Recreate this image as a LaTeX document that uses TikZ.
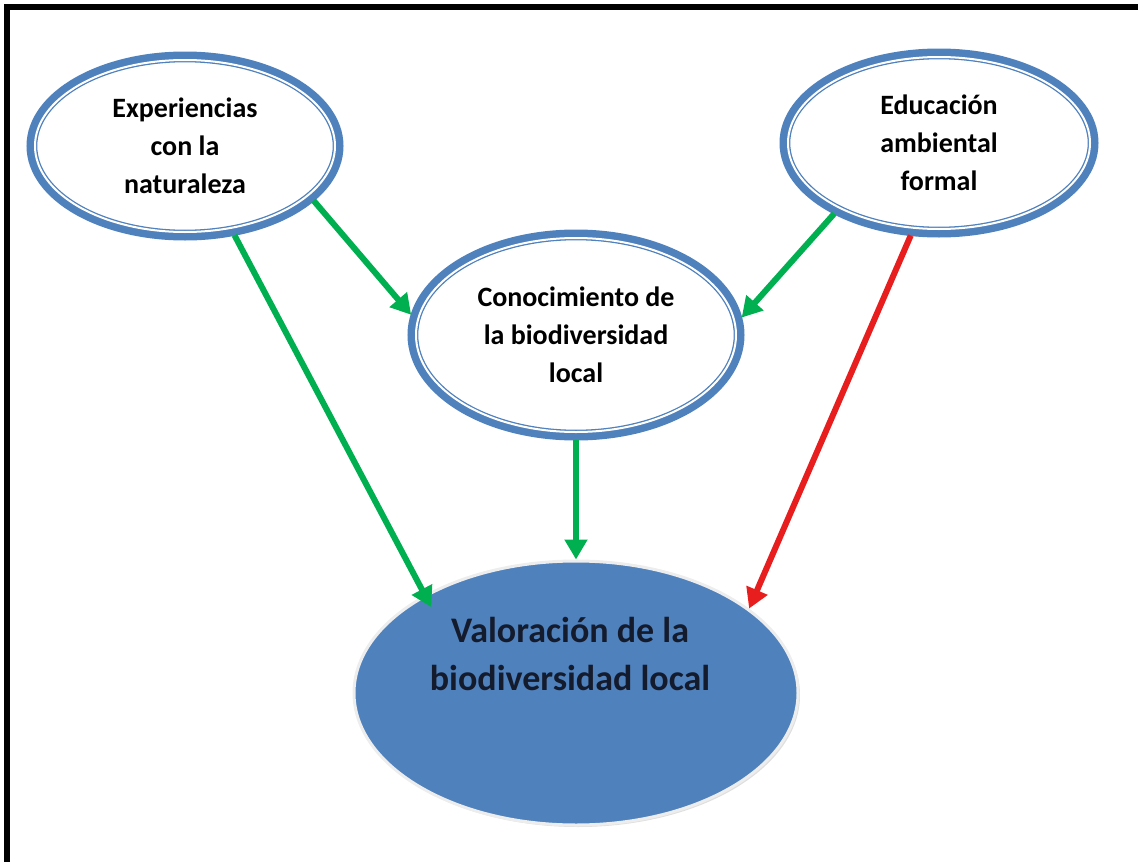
\documentclass[tikz,border=0pt]{standalone}
\usepackage{fontspec}
\setmainfont{Carlito}
\usetikzlibrary{shapes.geometric,arrows.meta,shadows}
\definecolor{ringblue}{HTML}{4F81BD}
\definecolor{arrowgreen}{HTML}{00B050}
\definecolor{arrowred}{HTML}{E81E1E}
\definecolor{inkblue}{HTML}{141B2D}
\begin{document}
\begin{tikzpicture}[x=1pt, y=-1pt,
  ring/.style = {ellipse, draw=ringblue, fill=white,
    inner sep=0pt, outer sep=8pt,
    double=white, double distance=2pt, line width=1.3pt,
    preaction={draw=ringblue, line width=17pt},
    align=center, font=\fontsize{28}{38}\selectfont\bfseries},
  core/.style = {ellipse, fill=ringblue, draw=black!7, line width=3pt,
    inner sep=0pt, minimum width=444pt, minimum height=264pt,
    drop shadow={shadow xshift=2pt, shadow yshift=-2pt, opacity=0.25}},
  coretext/.style = {align=center, text=inkblue,
    font=\fontsize{36}{48}\selectfont\bfseries},
  link/.style = {line width=6pt, arrowgreen,
    -{Triangle[length=20pt, width=22pt]}}]

  \useasboundingbox (0,0) rectangle (1138,862);
  \draw[line width=6pt] (7,862) -- (7,7) -- (1138,7);

  \node[ring, minimum width=300pt, minimum height=172pt] (exp) at (185,146)
    {Experiencias\\con la\\naturaleza};
  \node[ring, minimum width=302pt, minimum height=172pt] (edu) at (939,143)
    {Educación\\ambiental\\formal};
  \node[ring, minimum width=320pt, minimum height=194pt] (con) at (576,335)
    {Conocimiento de\\la biodiversidad\\local};
  \node[core] (val) at (576,693) {};
  \node[coretext] (valtext) at (570,654) {Valoración de la\\biodiversidad local};

  \draw[link] (exp.-23) -- (con.173);
  \draw[link] (edu.214) -- (con.6);
  \draw[link] (con.south) -- (val.north);
  \draw[link, shorten >=-14pt] (exp.-61) -- (val.147);
  \draw[link, arrowred] (edu.253) -- (val.26);

\end{tikzpicture}
\end{document}
